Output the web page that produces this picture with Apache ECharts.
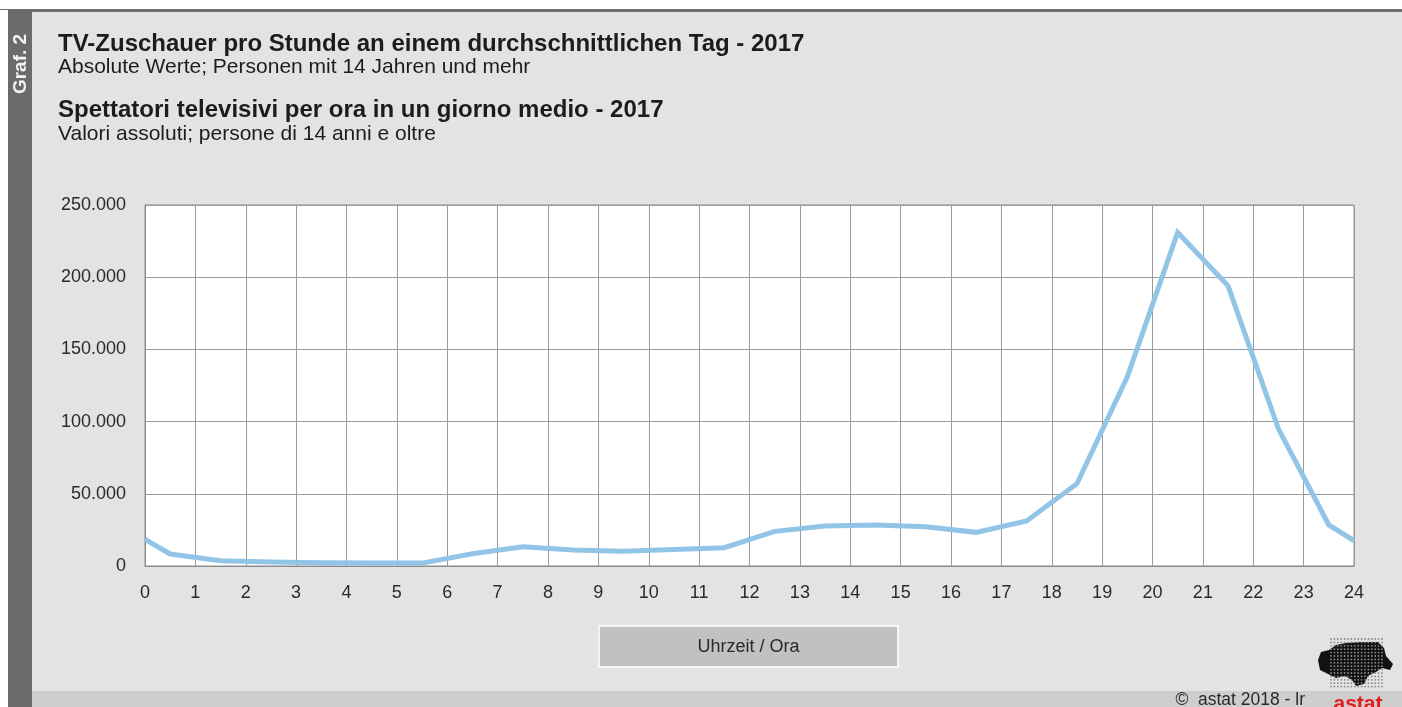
<!DOCTYPE html>
<html>
<head>
<meta charset="utf-8">
<script src="https://cdn.jsdelivr.net/npm/echarts@6/dist/echarts.min.js"></script>
<style>
html,body{margin:0;padding:0;background:#fff;}
#c{width:1402px;height:707px;}
</style>
</head>
<body>
<div id="c"></div>
<script>
const hours = [0, 0.5, 1.5, 2.5, 3.5, 4.5, 5.5, 6.5, 7.5, 8.5, 9.5, 10.5, 11.5, 12.5, 13.5, 14.5, 15.5, 16.5, 17.5, 18.5, 19.5, 20.5, 21.5, 22.5, 23.5, 24];
const viewers = [18500, 8300, 3700, 2800, 2300, 2100, 2000, 8500, 13400, 11100, 10200, 11500, 12700, 24000, 27700, 28400, 27200, 23300, 31200, 57000, 131000, 231000, 194000, 95000, 28400, 17500];
const titleDe = 'TV-Zuschauer pro Stunde an einem durchschnittlichen Tag - 2017';
const subDe = 'Absolute Werte; Personen mit 14 Jahren und mehr';
const titleIt = 'Spettatori televisivi per ora in un giorno medio - 2017';
const subIt = 'Valori assoluti; persone di 14 anni e oltre';
const axisName = 'Uhrzeit / Ora';
const sideLabel = 'Graf. 2';
const credit = '\u00A9  astat 2018 - lr';

const FONT = '"Liberation Sans", Arial, sans-serif';
const chart = echarts.init(document.getElementById('c'), null, {renderer: 'canvas'});

function fmt(v){
  if (v === 0) return '0';
  const s = String(Math.round(v));
  return s.replace(/\B(?=(\d{3})+(?!\d))/g, '.');
}

// decorative logo dots
const logoDots = [];
for (let gx = 1331; gx <= 1384; gx += 3.4) {
  for (let gy = 639; gy <= 689; gy += 3.4) {
    logoDots.push({type:'circle', silent:true, z:6, shape:{cx:gx, cy:gy, r:0.9}, style:{fill:'#8a8a8a'}});
  }
}

const graphics = [
  {type:'rect', silent:true, z:-10, shape:{x:0,y:10,width:1402,height:697}, style:{fill:'#e3e3e3'}},
  {type:'rect', silent:true, z:-9, shape:{x:0,y:9,width:1402,height:3}, style:{fill:'#6f6f6f'}},
  {type:'rect', silent:true, z:-9, shape:{x:32,y:691,width:1370,height:16}, style:{fill:'#cecece'}},
  {type:'rect', silent:true, z:-8, shape:{x:0,y:10,width:8,height:697}, style:{fill:'#ffffff'}},
  {type:'rect', silent:true, z:-8, shape:{x:8,y:10,width:24,height:697}, style:{fill:'#6c6b69'}},
  {type:'text', silent:true, z:5, x:21, y:64, rotation:Math.PI/2,
    style:{text:sideLabel, fill:'#f2f2f2', font:'bold 19px ' + FONT, textAlign:'center', textVerticalAlign:'middle'}},
  {type:'text', silent:true, z:5, x:58, y:44,
    style:{text:titleDe, fill:'#1e1b1c', font:'bold 24px ' + FONT, textAlign:'left', textVerticalAlign:'middle'}},
  {type:'text', silent:true, z:5, x:58, y:67,
    style:{text:subDe, fill:'#1e1b1c', font:'21px ' + FONT, textAlign:'left', textVerticalAlign:'middle'}},
  {type:'text', silent:true, z:5, x:58, y:110,
    style:{text:titleIt, fill:'#1e1b1c', font:'bold 24px ' + FONT, textAlign:'left', textVerticalAlign:'middle'}},
  {type:'text', silent:true, z:5, x:58, y:134,
    style:{text:subIt, fill:'#1e1b1c', font:'21px ' + FONT, textAlign:'left', textVerticalAlign:'middle'}},
  {type:'rect', silent:true, z:5, shape:{x:599,y:626,width:299,height:41}, style:{fill:'#c1c1c1', stroke:'#ffffff', lineWidth:1.5}},
  {type:'text', silent:true, z:6, x:748.5, y:647,
    style:{text:axisName, fill:'#2a2a2a', font:'18px ' + FONT, textAlign:'center', textVerticalAlign:'middle'}},
  {type:'text', silent:true, z:5, x:1305, y:700,
    style:{text:credit, fill:'#2a2a2a', font:'17.5px ' + FONT, textAlign:'right', textVerticalAlign:'middle'}},
  {type:'polygon', silent:true, z:5, shape:{points:[[1318,660],[1321,652],[1329,650],[1336,645],[1346,643],[1360,642],[1378,642],[1384,648],[1386,656],[1393,664],[1390,670],[1382,668],[1376,672],[1368,676],[1364,684],[1356,686],[1352,680],[1345,676],[1336,678],[1328,674],[1320,670]]}, style:{fill:'#121212'}},
  {type:'text', silent:true, z:6, x:1358, y:704,
    style:{text:'astat', fill:'#e31d1a', font:'bold 21px ' + FONT, textAlign:'center', textVerticalAlign:'middle'}}
].concat(logoDots);

const option = {
  animation: false,
  backgroundColor: 'transparent',
  graphic: graphics,
  grid: {left:145, right:48, top:205, bottom:141, show:true, backgroundColor:'#ffffff', borderColor:'#8c8c8c', borderWidth:1},
  xAxis: {
    type:'value', min:0, max:24, interval:1,
    axisLine:{show:true, lineStyle:{color:'#8c8c8c', width:1}},
    axisTick:{show:false},
    axisLabel:{color:'#2a2a2a', fontSize:18, fontFamily:FONT, margin:18},
    splitLine:{show:true, lineStyle:{color:'#9a9a9a', width:1}}
  },
  yAxis: {
    type:'value', min:0, max:250000, interval:50000,
    axisLine:{show:true, lineStyle:{color:'#8c8c8c', width:1}},
    axisTick:{show:false},
    axisLabel:{color:'#2a2a2a', fontSize:18, fontFamily:FONT, margin:19, formatter:fmt},
    splitLine:{show:true, lineStyle:{color:'#9a9a9a', width:1}}
  },
  series: [{
    type:'line',
    data: hours.map((h,i)=>[h, viewers[i]]),
    showSymbol:false,
    symbol:'none',
    lineStyle:{color:'#92c4e7', width:5, join:'miter'},
    clip:false,
    z:3
  }]
};
chart.setOption(option);
</script>
</body>
</html>
